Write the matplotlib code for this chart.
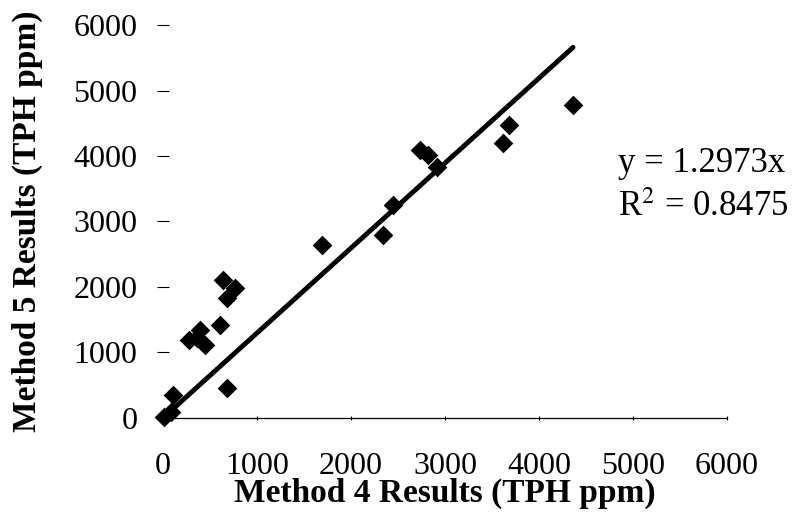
import matplotlib
matplotlib.use("Agg")
import matplotlib.pyplot as plt
import numpy as np

plt.rcParams['font.family'] = ['Liberation Serif', 'DejaVu Serif']
plt.rcParams['mathtext.fontset'] = 'stix'

# paired TPH results (ppm)
method4 = [10, 90, 110, 680, 277, 362, 394, 447, 606, 638, 766, 681,
           1691, 2340, 2447, 2734, 2819, 2915, 3617, 3681, 4362]
method5 = [20, 90, 350, 460, 1191, 1221, 1343, 1115, 1420, 2107, 1985, 1832,
           2641, 2794, 3252, 4092, 4015, 3832, 4198, 4473, 4779]

slope = 1.2973
r_squared = 0.8475
ticks = [0, 1000, 2000, 3000, 4000, 5000, 6000]

fig = plt.figure(figsize=(7.97, 5.18), dpi=100)
ax = fig.add_axes([0.2045, 0.1931, 0.7077, 0.7586])

ax.scatter(method4, method5, marker='D', s=100, color='black',
           linewidths=0, clip_on=False, zorder=3)

xfit = np.array([0, max(method4)])
ax.plot(xfit, slope * xfit, color='black', lw=3.5, solid_capstyle='round',
        clip_on=False, zorder=2)

ax.set_xlim(0, 6000)
ax.set_ylim(0, 6000)
ax.set_xticks(ticks)
ax.set_yticks(ticks)

for side in ['top', 'right', 'left']:
    ax.spines[side].set_visible(False)
ax.spines['bottom'].set_linewidth(0.9)

ax.tick_params(axis='x', direction='inout', length=3, width=0.8,
               pad=23, labelsize=23)
ax.tick_params(axis='y', direction='inout', length=9, width=0.8,
               pad=14, labelsize=23)

ax.set_xlabel('Method 4 Results (TPH ppm)', fontsize=24, fontweight='bold',
              labelpad=-2)
ax.set_ylabel('Method 5 Results (TPH ppm)', fontsize=24, fontweight='bold',
              labelpad=22)

ax.text(4840, 3893, f'y = {slope}x', fontsize=25, va='center', ha='left')
ax.text(4840, 3221, f'R$^2$ = {r_squared}', fontsize=25, va='center',
        ha='left')

fig.savefig('out.png', dpi=100)
